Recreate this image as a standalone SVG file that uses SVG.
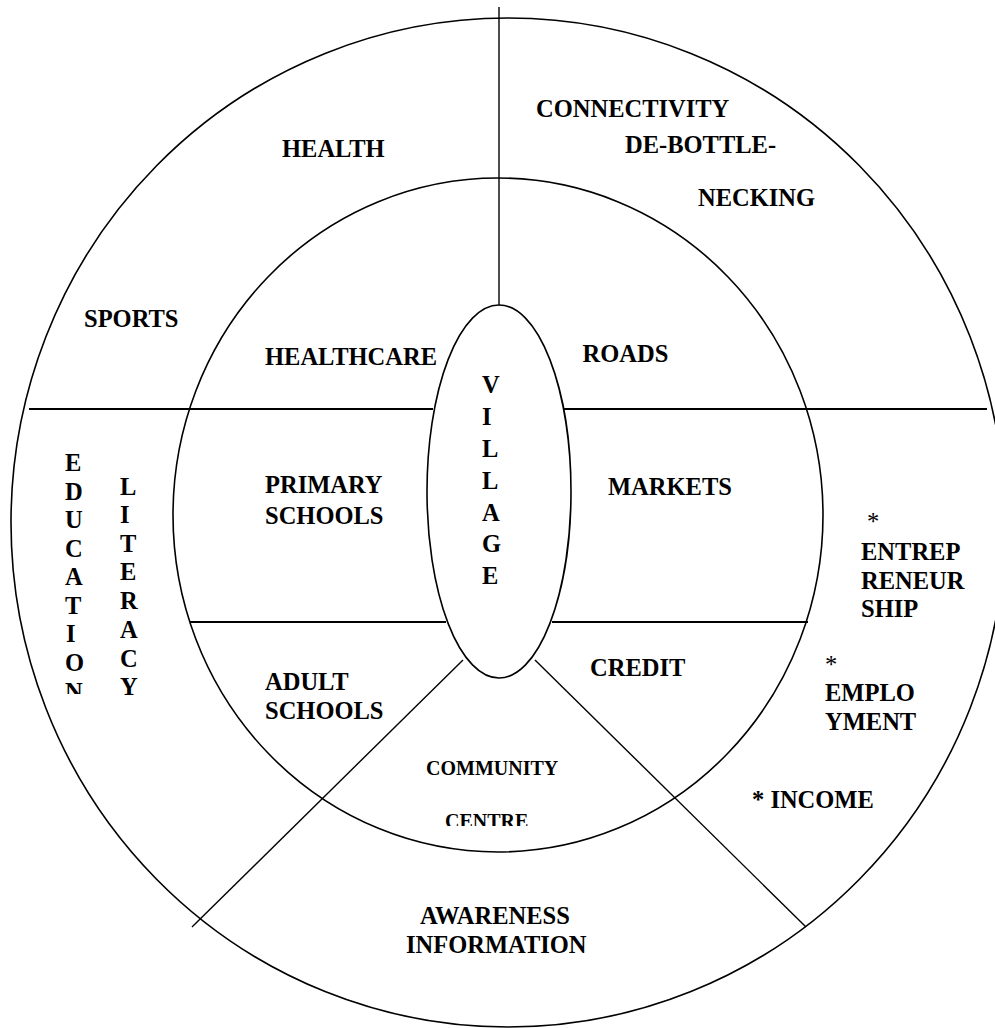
<svg xmlns="http://www.w3.org/2000/svg" width="995" height="1028" viewBox="0 0 995 1028">
<style>
.ring{fill:none;stroke:#000;stroke-width:1.6}
.ln{stroke:#000;stroke-width:1.4;fill:none}
.hl{stroke:#000;stroke-width:2.2;fill:none}
text{font-family:"Liberation Serif","Times New Roman",serif;font-weight:bold;font-size:24.5px;fill:#000}
.sm{font-size:20px}
.st{font-weight:normal}
</style>
<defs>
<clipPath id="clipEdu"><rect x="0" y="0" width="995" height="694"/></clipPath>
<clipPath id="clipCentre"><rect x="0" y="0" width="995" height="826"/></clipPath>
</defs>
<rect width="995" height="1028" fill="#fff"/>
<g id="outer-ring"><ellipse class="ring" cx="508" cy="522.5" rx="497" ry="504.5"/></g>
<g id="inner-ring"><ellipse class="ring" cx="498" cy="515" rx="325" ry="337"/></g>
<g id="connectors">
<line class="ln" x1="499" y1="7" x2="499" y2="305"/>
<line class="hl" x1="29" y1="409" x2="433" y2="409"/>
<line class="hl" x1="563" y1="409" x2="987" y2="409"/>
<line class="hl" x1="190" y1="622" x2="446" y2="622"/>
<line class="hl" x1="552" y1="622" x2="808" y2="622"/>
<line class="ln" x1="463" y1="660" x2="192" y2="927"/>
<line class="ln" x1="535" y1="660" x2="806" y2="927"/>
</g>
<g id="village">
<ellipse class="ring" cx="499" cy="491.5" rx="72" ry="186.5" fill="#fff"/>
<text x="482" y="393">V</text>
<text x="482" y="425">I</text>
<text x="482" y="457">L</text>
<text x="482" y="489">L</text>
<text x="482" y="521">A</text>
<text x="482" y="552">G</text>
<text x="482" y="584">E</text>
</g>
<g id="health"><text x="282" y="156.5">HEALTH</text></g>
<g id="connectivity">
<text x="536" y="117">CONNECTIVITY</text>
<text x="625" y="152.5">DE-BOTTLE-</text>
<text x="698" y="205.5">NECKING</text>
</g>
<g id="sports"><text x="84" y="326.5">SPORTS</text></g>
<g id="healthcare"><text x="265" y="365">HEALTHCARE</text></g>
<g id="roads"><text x="582.5" y="361.5">ROADS</text></g>
<g id="primary-schools">
<text x="265" y="492.5">PRIMARY</text>
<text x="265" y="523.5">SCHOOLS</text>
</g>
<g id="markets"><text x="608" y="495">MARKETS</text></g>
<g id="adult-schools">
<text x="265" y="689.5">ADULT</text>
<text x="265" y="719">SCHOOLS</text>
</g>
<g id="credit"><text x="590" y="676">CREDIT</text></g>
<g id="community-centre">
<text class="sm" x="426" y="774.5">COMMUNITY</text>
<text class="sm" x="445" y="828" clip-path="url(#clipCentre)">CENTRE</text>
</g>
<g id="awareness">
<text x="420" y="924">AWARENESS</text>
<text x="406" y="953">INFORMATION</text>
</g>
<g id="education" clip-path="url(#clipEdu)">
<text x="65" y="471">E</text>
<text x="65" y="499.5">D</text>
<text x="65" y="528">U</text>
<text x="65" y="557">C</text>
<text x="65" y="585">A</text>
<text x="65" y="614">T</text>
<text x="66" y="642">I</text>
<text x="65" y="671">O</text>
<text x="65" y="699.5">N</text>
</g>
<g id="literacy">
<text x="120" y="495">L</text>
<text x="120" y="523">I</text>
<text x="120" y="552">T</text>
<text x="120" y="580">E</text>
<text x="120" y="609">R</text>
<text x="120" y="638">A</text>
<text x="120" y="667">C</text>
<text x="120" y="695">Y</text>
</g>
<g id="entrepreneurship">
<text class="st" x="867" y="530">*</text>
<text x="861" y="560">ENTREP</text>
<text x="861" y="588.5">RENEUR</text>
<text x="861" y="617">SHIP</text>
</g>
<g id="employment">
<text class="st" x="825" y="673">*</text>
<text x="825" y="700.5">EMPLO</text>
<text x="825" y="730">YMENT</text>
</g>
<g id="income"><text x="752" y="808">* INCOME</text></g>
</svg>
